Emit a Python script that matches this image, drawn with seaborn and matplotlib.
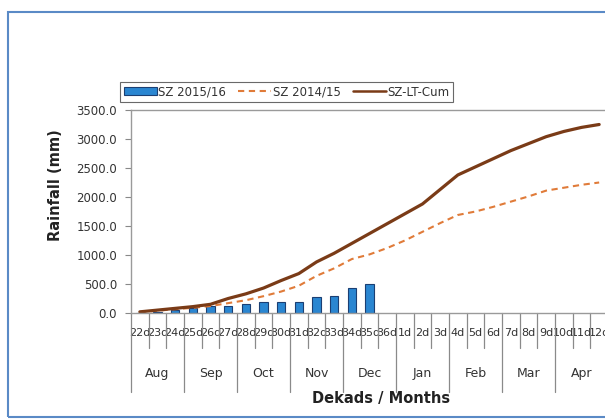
import matplotlib
matplotlib.use("Agg")
import matplotlib.pyplot as plt
import matplotlib.transforms as mtransforms
from matplotlib.patches import Rectangle, Patch
from matplotlib.lines import Line2D
import numpy as np
import pandas as pd
import seaborn as sns

sns.set_style("white")
plt.rcParams['font.family'] = ['DejaVu Sans']

# ---- data ----
dekads = [f"{d}d" for d in range(22, 37)] + [f"{d}d" for d in range(1, 13)]
months = ["Aug", "Sep", "Oct", "Nov", "Dec", "Jan", "Feb", "Mar", "Apr"]
sz_2015_16 = [5, 20, 45, 85, 115, 125, 155, 190, 195, 195, 275, 298, 430, 500]
sz_2014_15 = [15, 40, 65, 90, 120, 170, 220, 290, 370, 470, 640, 770, 930, 1010,
              1120, 1250, 1400, 1550, 1690, 1750, 1830, 1920, 2010, 2110, 2160, 2210, 2250]
sz_lt_cum = [20, 50, 80, 110, 150, 250, 330, 430, 560, 680, 880, 1030, 1200, 1370,
             1540, 1710, 1880, 2130, 2380, 2520, 2660, 2800, 2920, 3040, 3130, 3200, 3250]
yticks = [0, 500, 1000, 1500, 2000, 2500, 3000, 3500]

W, H = 605, 419
fig = plt.figure(figsize=(W / 100, H / 100), dpi=100)

# outer blue frame
fig.patches.append(Rectangle((8 / W, 1 - 417 / H), 700 / W, (417 - 12) / H,
                             transform=fig.transFigure, fill=False,
                             edgecolor="#5a8ac6", linewidth=1.5))

ax = fig.add_axes([131 / W, 1 - 313 / H, 477 / W, 203 / H])

n = len(dekads)
pos = np.arange(n)

bar_df = pd.DataFrame({"dekad": dekads[:len(sz_2015_16)], "rain": sz_2015_16})
sns.barplot(data=bar_df, x="dekad", y="rain", order=dekads, ax=ax,
            color="#2a86d1", edgecolor="#1b3f73", linewidth=0.8, width=0.48,
            saturation=1)

sns.lineplot(x=pos, y=sz_2014_15, ax=ax, color="#e07b39", linewidth=1.5,
             linestyle=(0, (3.0, 2.2)))
sns.lineplot(x=pos, y=sz_lt_cum, ax=ax, color="#7a3b17", linewidth=2.3)

ax.set_xlim(-0.5, n - 0.5)
ax.set_ylim(0, 3500)
ax.set_yticks(yticks)
ax.set_yticklabels([f"{v:.1f}" for v in yticks], fontsize=8.5, color="#333333")
ax.tick_params(axis="y", direction="out", length=4, color="#888888", pad=6, left=True)
ax.set_xticks(pos)
ax.set_xticklabels(dekads, fontsize=8, color="#333333")
ax.tick_params(axis="x", length=0, pad=11)
ax.set_xlabel("")
ax.set_ylabel("")

for s in ["left", "bottom", "top"]:
    ax.spines[s].set_color("#9a9a9a")
    ax.spines[s].set_linewidth(1.0)
ax.spines["right"].set_visible(False)

trans = mtransforms.blended_transform_factory(ax.transData, ax.transAxes)
for b in np.arange(-0.5, n, 1.0):
    is_month = int(round(b + 0.5)) % 3 == 0
    y0 = -0.39 if is_month else -0.17
    ax.plot([b, b], [0, y0], transform=trans, color="#8a8a8a", linewidth=0.9,
            clip_on=False)

for k, m in enumerate(months):
    ax.text(3 * k + 1, -0.296, m, transform=trans, ha="center", va="center",
            fontsize=9, color="#333333")

fig.text(381 / W, 1 - 398 / H, "Dekads / Months", ha="center", va="center",
         fontsize=10.5, fontweight="bold", color="#222222")
fig.text(55 / W, 1 - 185 / H, "Rainfall (mm)", ha="center", va="center",
         rotation=90, fontsize=10.5, fontweight="bold", color="#222222")

handles = [Patch(facecolor="#2a86d1", edgecolor="#1b3f73", linewidth=0.8),
           Line2D([], [], color="#e07b39", linewidth=1.5, linestyle=(0, (3.0, 2.2))),
           Line2D([], [], color="#7a3b17", linewidth=1.8)]
leg = fig.legend(handles, ["SZ 2015/16", "SZ 2014/15", "SZ-LT-Cum"],
                 loc="center", bbox_to_anchor=(286.5 / W, 1 - 92 / H), ncol=3,
                 fontsize=8.5, frameon=True, fancybox=False, handlelength=2.8,
                 handletextpad=0.15, columnspacing=1.0, borderpad=0.3,
                 borderaxespad=0.0, handleheight=0.7)
leg.get_frame().set_edgecolor("#444444")
leg.get_frame().set_linewidth(0.8)
for t in leg.get_texts():
    t.set_color("#333333")

fig.savefig("out.png", dpi=100)
